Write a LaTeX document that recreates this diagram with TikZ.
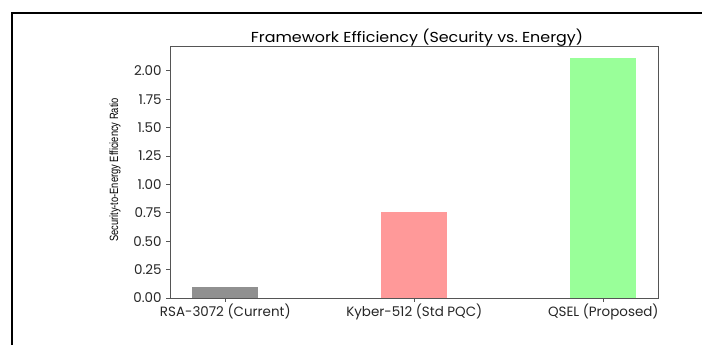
\documentclass[tikz,border=0pt]{standalone}
\usepackage{fontspec}
\setmainfont{Poppins}
\newfontfamily\labelfont{Liberation Sans}
\usepackage{tikz}

\definecolor{rsagray}{HTML}{909090}
\definecolor{kyberpink}{HTML}{FF9999}
\definecolor{qselgreen}{HTML}{99FF99}
\definecolor{spinegray}{HTML}{555555}

\begin{document}
\begin{tikzpicture}[x=1bp,y=1bp,
    ticklab/.style={font=\fontsize{13.5}{15}\selectfont, text=black!85, inner sep=1.5bp},
    spine/.style={draw=spinegray, line width=0.8bp}]
  \useasboundingbox (0,0) rectangle (702,345);
  % frame
  \draw[line width=2bp] (12,0) -- (12,332) -- (702,332);
  \node (title) at (417,307) {\fontsize{14.5}{17}\selectfont\scalebox{1.1}[1]{Framework Efficiency (Security vs.\ Energy)}};
  \node[rotate=90] (ylab) at (115,175) {\labelfont\fontsize{12}{14}\selectfont\scalebox{0.78}[1]{Security-to-Energy Efficiency Ratio}};

  \begin{scope}[shift={(225.3,47)}, x=189bp, y=113.6bp]
    \fill[rsagray] (-0.175,0) rectangle (0.175,0.1);
    \fill[kyberpink] (0.825,0) rectangle (1.175,0.76);
    \fill[qselgreen] (1.825,0) rectangle (2.175,2.11);
    \draw[spine] (-0.2925,0) rectangle (2.2925,2.2155);
    \foreach \v in {0.00,0.25,0.50,0.75,1.00,1.25,1.50,1.75,2.00}
      \draw[spine] (-0.2925,\v) -- ++(-4bp,0) node[left,ticklab,inner xsep=4bp] {\v};
    \draw[spine] (0,0) -- ++(0,-4bp) node[below,ticklab] {RSA-3072 (Current)};
    \draw[spine] (1,0) -- ++(0,-4bp) node[below,ticklab] {Kyber-512 (Std PQC)};
    \draw[spine] (2,0) -- ++(0,-4bp) node[below,ticklab] {QSEL (Proposed)};
  \end{scope}
\end{tikzpicture}
\end{document}
